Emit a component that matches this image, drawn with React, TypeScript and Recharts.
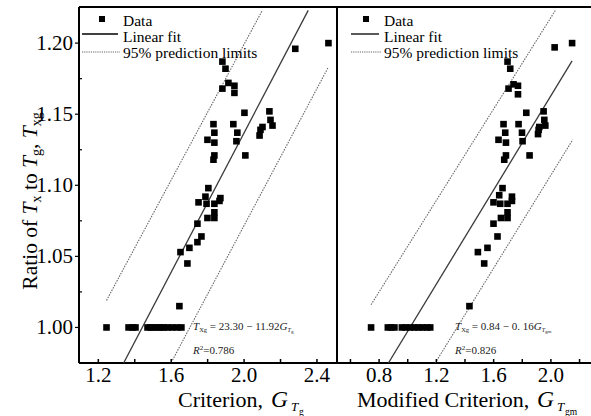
import { ScatterChart, Scatter, XAxis, YAxis, ReferenceLine } from 'recharts'

// --- Data: G_Tg criterion vs Tx/Tg ratio ---
const LEFT_POINTS = [
  { g: 2.281, t: 1.196 }, { g: 2.463, t: 1.2 },
  { g: 1.881, t: 1.187 }, { g: 1.898, t: 1.182 }, { g: 1.881, t: 1.168 }, { g: 1.914, t: 1.172 },
  { g: 1.947, t: 1.17 }, { g: 1.947, t: 1.165 },
  { g: 2.002, t: 1.151 }, { g: 2.139, t: 1.152 }, { g: 2.145, t: 1.146 }, { g: 2.156, t: 1.142 },
  { g: 2.101, t: 1.141 }, { g: 2.09, t: 1.139 }, { g: 2.085, t: 1.135 },
  { g: 1.832, t: 1.143 }, { g: 1.941, t: 1.143 }, { g: 1.837, t: 1.137 }, { g: 1.963, t: 1.137 },
  { g: 1.799, t: 1.132 }, { g: 1.837, t: 1.13 }, { g: 1.958, t: 1.131 }, { g: 1.837, t: 1.121 },
  { g: 1.832, t: 1.118 }, { g: 2.007, t: 1.121 },
  { g: 1.804, t: 1.098 }, { g: 1.788, t: 1.092 }, { g: 1.87, t: 1.091 }, { g: 1.75, t: 1.088 },
  { g: 1.794, t: 1.087 }, { g: 1.837, t: 1.087 }, { g: 1.865, t: 1.089 }, { g: 1.799, t: 1.077 },
  { g: 1.837, t: 1.077 }, { g: 1.837, t: 1.081 }, { g: 1.744, t: 1.073 }, { g: 1.766, t: 1.064 },
  { g: 1.744, t: 1.06 }, { g: 1.7, t: 1.056 }, { g: 1.651, t: 1.053 }, { g: 1.689, t: 1.045 },
  { g: 1.645, t: 1.015 },
  { g: 1.245, t: 1.0 }, { g: 1.366, t: 1.0 }, { g: 1.388, t: 1.0 }, { g: 1.404, t: 1.0 },
  { g: 1.47, t: 1.0 }, { g: 1.487, t: 1.0 }, { g: 1.503, t: 1.0 }, { g: 1.525, t: 1.0 },
  { g: 1.541, t: 1.0 }, { g: 1.558, t: 1.0 }, { g: 1.58, t: 1.0 }, { g: 1.605, t: 1.0 },
  { g: 1.632, t: 1.0 }, { g: 1.656, t: 1.0 },
]
const LEFT_FIT = [{ g: 1.339, t: 0.975 }, { g: 2.352, t: 1.223 }]
const LEFT_UPPER = [{ g: 1.245, t: 1.019 }, { g: 2.1, t: 1.223 }]
const LEFT_LOWER = [{ g: 1.607, t: 0.977 }, { g: 2.462, t: 1.183 }]

// --- Data: modified criterion G_Tgm ---
const RIGHT_POINTS = [
  { g: 2.026, t: 1.197 }, { g: 2.148, t: 1.2 },
  { g: 1.697, t: 1.187 }, { g: 1.716, t: 1.182 }, { g: 1.704, t: 1.168 }, { g: 1.739, t: 1.171 },
  { g: 1.77, t: 1.17 }, { g: 1.77, t: 1.164 },
  { g: 1.828, t: 1.151 }, { g: 1.949, t: 1.152 }, { g: 1.954, t: 1.146 }, { g: 1.961, t: 1.142 },
  { g: 1.919, t: 1.141 }, { g: 1.914, t: 1.139 }, { g: 1.91, t: 1.136 },
  { g: 1.669, t: 1.143 }, { g: 1.774, t: 1.143 }, { g: 1.681, t: 1.137 }, { g: 1.798, t: 1.137 },
  { g: 1.634, t: 1.132 }, { g: 1.686, t: 1.13 }, { g: 1.802, t: 1.131 }, { g: 1.686, t: 1.121 },
  { g: 1.674, t: 1.118 }, { g: 1.851, t: 1.121 },
  { g: 1.662, t: 1.098 }, { g: 1.639, t: 1.093 }, { g: 1.728, t: 1.092 },
  { g: 1.599, t: 1.088 }, { g: 1.646, t: 1.087 }, { g: 1.697, t: 1.087 }, { g: 1.728, t: 1.089 },
  { g: 1.651, t: 1.077 }, { g: 1.697, t: 1.077 }, { g: 1.697, t: 1.081 }, { g: 1.599, t: 1.073 },
  { g: 1.627, t: 1.064 }, { g: 1.557, t: 1.056 }, { g: 1.49, t: 1.053 }, { g: 1.534, t: 1.045 },
  { g: 1.431, t: 1.015 },
  { g: 0.744, t: 1.0 }, { g: 0.861, t: 1.0 }, { g: 0.884, t: 1.0 }, { g: 0.907, t: 1.0 },
  { g: 0.959, t: 1.0 }, { g: 0.987, t: 1.0 }, { g: 1.017, t: 1.0 }, { g: 1.047, t: 1.0 },
  { g: 1.075, t: 1.0 }, { g: 1.103, t: 1.0 }, { g: 1.134, t: 1.0 }, { g: 1.157, t: 1.0 },
]
const RIGHT_FIT = [{ g: 0.865, t: 0.975 }, { g: 2.148, t: 1.1875 }]
const RIGHT_UPPER = [{ g: 0.744, t: 1.016 }, { g: 2.031, t: 1.223 }]
const RIGHT_LOWER = [{ g: 1.192, t: 0.975 }, { g: 2.152, t: 1.132 }]

// --- Axes ---
const Y_DOMAIN = [0.975, 1.2254]
const Y_TICKS = [1.0, 1.025, 1.05, 1.075, 1.1, 1.125, 1.15, 1.175, 1.2]
const Y_MAJOR = [1.0, 1.05, 1.1, 1.15, 1.2]
const LEFT_X_DOMAIN = [1.094, 2.51]
const LEFT_X_TICKS = [1.2, 1.4, 1.6, 1.8, 2.0, 2.2, 2.4]
const LEFT_X_MAJOR = [1.2, 1.6, 2.0, 2.4]
const RIGHT_X_DOMAIN = [0.506, 2.28]
const RIGHT_X_TICKS = [0.6, 0.8, 1.0, 1.2, 1.4, 1.6, 1.8, 2.0, 2.2]
const RIGHT_X_MAJOR = [0.8, 1.2, 1.6, 2.0]

const FONT = 'Liberation Serif, Times New Roman, serif'
const FIT_COLOR = '#3a3a3a'
const LIMIT_COLOR = '#666'

const isMajor = (v: number, majors: number[]) => majors.some((m) => Math.abs(m - v) < 1e-6)

const Square = (p: any) => <rect x={p.cx - 3.3} y={p.cy - 3.3} width={6.6} height={6.6} fill="#000" />
const NoShape = () => <g />

function makeXTick(majors: number[]) {
  return (p: any) => {
    const v = p.payload.value
    return (
      <g>
        <line x1={p.x} x2={p.x} y1={p.y} y2={p.y - 4} stroke="#000" strokeWidth={1.5} />
        {isMajor(v, majors) && (
          <text x={p.x} y={p.y + 19} textAnchor="middle" fontSize={21} fontFamily={FONT} fill="#000">
            {v.toFixed(1)}
          </text>
        )}
      </g>
    )
  }
}

const YTick = (p: any) => {
  const v = p.payload.value
  const major = isMajor(v, Y_MAJOR)
  return (
    <g>
      <line x1={p.x} x2={major ? p.x - 4 : p.x + 3} y1={p.y} y2={p.y} stroke="#000" strokeWidth={1.2} />
      {major && (
        <text x={p.x - 6} y={p.y + 7} textAnchor="end" fontSize={21} fontFamily={FONT} fill="#000">
          {v.toFixed(2)}
        </text>
      )}
    </g>
  )
}

type Pt = { g: number; t: number }

function Panel({ points, fit, upper, lower, xDomain, xTicks, xMajor, showY, width }: {
  points: Pt[]; fit: Pt[]; upper: Pt[]; lower: Pt[]; xDomain: number[]; xTicks: number[]; xMajor: number[]; showY: boolean; width: number
}) {
  return (
    <ScatterChart width={width} height={416} margin={{ top: 7, right: showY ? 3 : 0, bottom: 23, left: 0 }}>
      <XAxis
        type="number" dataKey="g" domain={xDomain} ticks={xTicks} allowDataOverflow
        height={30} tickSize={0} tickMargin={0} tickLine={false} interval={0}
        axisLine={{ stroke: '#000', strokeWidth: 2 }} tick={makeXTick(xMajor)}
      />
      <YAxis
        type="number" dataKey="t" domain={Y_DOMAIN} ticks={Y_TICKS} allowDataOverflow hide={!showY}
        width={79} tickSize={0} tickMargin={0} tickLine={false} interval={0}
        axisLine={{ stroke: '#000', strokeWidth: 2 }} tick={YTick}
      />
      <ReferenceLine y={Y_DOMAIN[1]} stroke="#000" strokeWidth={2} />
      {showY && <ReferenceLine x={xDomain[1]} stroke="#000" strokeWidth={2} />}
      <Scatter data={upper} line={{ stroke: LIMIT_COLOR, strokeWidth: 1.1, strokeDasharray: '1.5 1.2' }} shape={NoShape} isAnimationActive={false} />
      <Scatter data={lower} line={{ stroke: LIMIT_COLOR, strokeWidth: 1.1, strokeDasharray: '1.5 1.2' }} shape={NoShape} isAnimationActive={false} />
      <Scatter data={fit} line={{ stroke: FIT_COLOR, strokeWidth: 1.3 }} shape={NoShape} isAnimationActive={false} />
      <Scatter data={points} shape={Square} isAnimationActive={false} />
    </ScatterChart>
  )
}

function LegendBox({ x, markX, lineX1 }: { x: number; markX: number; lineX1: number }) {
  return (
    <g fontFamily={FONT} fontSize={15.5} fill="#000">
      <rect x={markX - 3} y={16} width={6} height={6} fill="#000" />
      <text x={x} y={26}>Data</text>
      <line x1={lineX1} x2={x - 5} y1={34} y2={34} stroke="#000" strokeWidth={1.3} />
      <text x={x} y={42}>Linear fit</text>
      <line x1={lineX1} x2={x - 3} y1={52} y2={52} stroke={LIMIT_COLOR} strokeWidth={1.1} strokeDasharray="1.2 1" />
      <text x={x} y={58}>95% prediction limits</text>
    </g>
  )
}

function Labels() {
  return (
    <svg width={591} height={416} style={{ position: 'absolute', left: 0, top: 0, pointerEvents: 'none' }}>
      <LegendBox x={123} markX={102} lineX1={82} />
      <LegendBox x={384} markX={366} lineX1={351} />

      {/* y-axis title */}
      <text transform="rotate(-90)" x={-201} y={37} textAnchor="middle" fontFamily={FONT} fontSize={21.5}>
        Ratio of <tspan fontStyle="italic">T</tspan>
        <tspan fontSize={14} dy={4}>x</tspan>
        <tspan dy={-4}> to </tspan>
        <tspan fontStyle="italic">T</tspan>
        <tspan fontSize={14} dy={4}>g</tspan>
        <tspan dy={-4}>, </tspan>
        <tspan fontStyle="italic">T</tspan>
        <tspan fontSize={14} dy={4}>xg</tspan>
      </text>

      {/* x-axis titles */}
      <g fontFamily={FONT} fill="#000">
        <text x={178} y={407} fontSize={22}>Criterion,</text>
        <text x={271} y={407} fontSize={23.5} fontStyle="italic">G</text>
        <text x={291} y={411} fontSize={13} fontStyle="italic">T</text>
        <text x={299} y={415} fontSize={9.5}>g</text>

        <text x={357} y={407} fontSize={22}>Modified Criterion,</text>
        <text x={537} y={407} fontSize={23.5} fontStyle="italic">G</text>
        <text x={557} y={411} fontSize={13} fontStyle="italic">T</text>
        <text x={565} y={415} fontSize={9.5}>gm</text>
      </g>

      {/* fit equations */}
      <g fontFamily={FONT} fontSize={11} fill="#222">
        <text x={193} y={330}>
          <tspan fontStyle="italic">T</tspan><tspan fontSize={6.5} dy={2}>Xg</tspan>
          <tspan dy={-2}> = 23.30 − 11.92</tspan><tspan fontStyle="italic">G</tspan>
          <tspan fontSize={6} dy={2} fontStyle="italic">T</tspan><tspan fontSize={5} dy={1}>g</tspan>
        </text>
        <text x={193} y={354}>
          <tspan fontStyle="italic">R</tspan><tspan fontSize={7} dy={-4}>2</tspan><tspan dy={4}>=0.786</tspan>
        </text>
        <text x={455} y={330}>
          <tspan fontStyle="italic">T</tspan><tspan fontSize={6.5} dy={2}>Xg</tspan>
          <tspan dy={-2}> = 0.84 − 0. 16</tspan><tspan fontStyle="italic">G</tspan>
          <tspan fontSize={6} dy={2} fontStyle="italic">T</tspan><tspan fontSize={5} dy={1}>gm</tspan>
        </text>
        <text x={455} y={354}>
          <tspan fontStyle="italic">R</tspan><tspan fontSize={7} dy={-4}>2</tspan><tspan dy={4}>=0.826</tspan>
        </text>
      </g>
    </svg>
  )
}

export default function App() {
  return (
    <div style={{ position: 'absolute', left: 0, top: 0, width: 591, height: 416, background: '#fff' }}>
      <div style={{ position: 'absolute', left: 0, top: 0 }}>
        <Panel
          points={LEFT_POINTS} fit={LEFT_FIT} upper={LEFT_UPPER} lower={LEFT_LOWER}
          xDomain={LEFT_X_DOMAIN} xTicks={LEFT_X_TICKS} xMajor={LEFT_X_MAJOR} showY width={340}
        />
      </div>
      <div style={{ position: 'absolute', left: 337, top: 0 }}>
        <Panel
          points={RIGHT_POINTS} fit={RIGHT_FIT} upper={RIGHT_UPPER} lower={RIGHT_LOWER}
          xDomain={RIGHT_X_DOMAIN} xTicks={RIGHT_X_TICKS} xMajor={RIGHT_X_MAJOR} showY={false} width={254}
        />
      </div>
      <Labels />
    </div>
  )
}
